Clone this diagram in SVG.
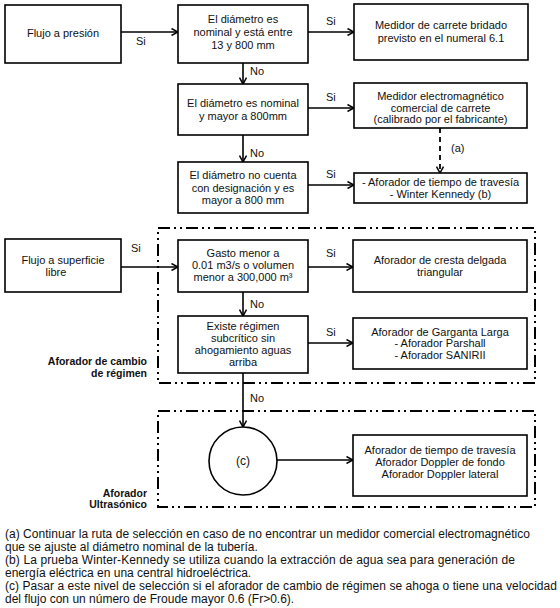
<svg xmlns="http://www.w3.org/2000/svg" width="560" height="608" viewBox="0 0 560 608">
<defs>
<marker id="arr" viewBox="0 0 8 8" refX="7.5" refY="4" markerWidth="8" markerHeight="8" markerUnits="userSpaceOnUse" orient="auto">
<path d="M1,0.5 L7.5,4 L1,7.5" fill="none" stroke="#000" stroke-width="1.5"/>
</marker>
<style>
.box{fill:#fff;stroke:#000;stroke-width:1.6}
.t{font-family:"Liberation Sans",Arial,sans-serif;font-size:11px;fill:#111;text-anchor:middle}
.lbl{font-family:"Liberation Sans",Arial,sans-serif;font-size:11px;fill:#111}
.b{font-family:"Liberation Sans",Arial,sans-serif;font-size:10.5px;font-weight:bold;fill:#111;text-anchor:end}
.fn{font-family:"Liberation Sans",Arial,sans-serif;font-size:12px;fill:#111}
.ln{fill:none;stroke:#000;stroke-width:1.6}
.dd{fill:none;stroke:#000;stroke-width:2;stroke-dasharray:12 4 2 4 2 4}
</style>
</defs>

<g id="group-cambio">
<rect class="dd" x="158" y="228" width="377" height="155"/>
<text class="b" x="147" y="365">Aforador de cambio</text>
<text class="b" x="147" y="376.5">de régimen</text>
</g>
<g id="group-ultrasonico">
<rect class="dd" x="158" y="411" width="377" height="96"/>
<text class="b" x="147" y="497">Aforador</text>
<text class="b" x="147" y="508">Ultrasónico</text>
</g>

<g id="connectors">
<line class="ln" x1="121" y1="32" x2="178" y2="32" marker-end="url(#arr)"/>
<text class="lbl" x="136" y="45">Si</text>
<line class="ln" x1="308" y1="32" x2="354" y2="32" marker-end="url(#arr)"/>
<text class="lbl" x="326" y="25">Si</text>
<line class="ln" x1="243" y1="63" x2="243" y2="84" marker-end="url(#arr)"/>
<text class="lbl" x="250" y="75">No</text>
<line class="ln" x1="308" y1="108" x2="354" y2="108" marker-end="url(#arr)"/>
<text class="lbl" x="326" y="101">Si</text>
<line class="ln" x1="243" y1="135" x2="243" y2="162" marker-end="url(#arr)"/>
<text class="lbl" x="250" y="157">No</text>
<line x1="440" y1="128" x2="440" y2="173" stroke="#000" stroke-width="1.8" stroke-dasharray="5 4" marker-end="url(#arr)"/>
<text class="lbl" x="451" y="152">(a)</text>
<line class="ln" x1="308" y1="185" x2="354" y2="185" marker-end="url(#arr)"/>
<text class="lbl" x="326" y="178">Si</text>
<line class="ln" x1="121" y1="267" x2="178" y2="267" marker-end="url(#arr)"/>
<text class="lbl" x="131" y="252">Si</text>
<line class="ln" x1="308" y1="267" x2="353" y2="267" marker-end="url(#arr)"/>
<text class="lbl" x="326" y="257">Si</text>
<line class="ln" x1="243" y1="292" x2="243" y2="316" marker-end="url(#arr)"/>
<text class="lbl" x="250" y="308">No</text>
<line class="ln" x1="308" y1="343" x2="353" y2="343" marker-end="url(#arr)"/>
<text class="lbl" x="326" y="336">Si</text>
<line class="ln" x1="243" y1="373" x2="243" y2="427" marker-end="url(#arr)"/>
<text class="lbl" x="250" y="402">No</text>
<line class="ln" x1="277" y1="460" x2="353" y2="460" marker-end="url(#arr)"/>
</g>

<g id="n-flujo-presion">
<rect class="box" x="5" y="5" width="116" height="58"/>
<text class="t" x="63" y="37">Flujo a presión</text>
</g>
<g id="n-diam-13-800">
<rect class="box" x="178" y="5" width="130" height="58"/>
<text class="t" x="243" y="23">El diámetro es</text>
<text class="t" x="243" y="36">nominal y está entre</text>
<text class="t" x="243" y="49">13 y 800 mm</text>
</g>
<g id="n-carrete-bridado">
<rect class="box" x="354" y="4" width="174" height="56"/>
<text class="t" x="441" y="29">Medidor de carrete bridado</text>
<text class="t" x="441" y="42">previsto en el numeral 6.1</text>
</g>
<g id="n-diam-mayor-800">
<rect class="box" x="178" y="84" width="130" height="51"/>
<text class="t" x="243" y="107">El diámetro es nominal</text>
<text class="t" x="243" y="120">y mayor a 800mm</text>
</g>
<g id="n-electromagnetico">
<rect class="box" x="354" y="83" width="173" height="45"/>
<text class="t" x="440.5" y="100">Medidor electromagnético</text>
<text class="t" x="440.5" y="111.5">comercial de carrete</text>
<text class="t" x="440.5" y="123">(calibrado por el fabricante)</text>
</g>
<g id="n-diam-no-cuenta">
<rect class="box" x="178" y="162" width="130" height="51"/>
<text class="t" x="243" y="179">El diámetro no cuenta</text>
<text class="t" x="243" y="191.5">con designación y es</text>
<text class="t" x="243" y="204">mayor a 800 mm</text>
</g>
<g id="n-travesia-winter">
<rect class="box" x="354" y="173" width="173" height="30"/>
<text class="t" x="440.5" y="186">- Aforador de tiempo de travesía</text>
<text class="t" x="440.5" y="198">- Winter Kennedy (b)</text>
</g>
<g id="n-flujo-superficie">
<rect class="box" x="5" y="239" width="116" height="53"/>
<text class="t" x="63" y="264">Flujo a superficie</text>
<text class="t" x="56" y="276">libre</text>
</g>
<g id="n-gasto">
<rect class="box" x="178" y="240" width="130" height="52"/>
<text class="t" x="243" y="257">Gasto menor a</text>
<text class="t" x="243" y="269">0.01 m3/s o volumen</text>
<text class="t" x="243" y="281">menor a 300,000 m³</text>
</g>
<g id="n-cresta">
<rect class="box" x="353" y="240" width="174" height="52"/>
<text class="t" x="440" y="264">Aforador de cresta delgada</text>
<text class="t" x="440" y="276">triangular</text>
</g>
<g id="n-existe-regimen">
<rect class="box" x="178" y="316" width="130" height="57"/>
<text class="t" x="243" y="330">Existe régimen</text>
<text class="t" x="243" y="342">subcrítico sin</text>
<text class="t" x="243" y="354">ahogamiento aguas</text>
<text class="t" x="243" y="366">arriba</text>
</g>
<g id="n-garganta">
<rect class="box" x="353" y="318" width="174" height="51"/>
<text class="t" x="440" y="335.5">Aforador de Garganta Larga</text>
<text class="t" x="440" y="347">- Aforador Parshall</text>
<text class="t" x="440" y="358.5">- Aforador SANIRII</text>
</g>
<g id="n-c">
<circle cx="243" cy="461" r="34" fill="#fff" stroke="#000" stroke-width="1.6"/>
<text class="t" x="243" y="465" style="font-size:12px">(c)</text>
</g>
<g id="n-ultrasonico">
<rect class="box" x="353" y="435" width="174" height="61"/>
<text class="t" x="440" y="454">Aforador de tiempo de travesía</text>
<text class="t" x="440" y="466">Aforador Doppler de fondo</text>
<text class="t" x="440" y="478">Aforador Doppler lateral</text>
</g>

<g id="footnotes">
<text class="fn" x="5" y="538" textLength="525">(a) Continuar la ruta de selección en caso de no encontrar un medidor comercial electromagnético</text>
<text class="fn" x="5" y="551">que se ajuste al diámetro nominal de la tubería.</text>
<text class="fn" x="5" y="564" textLength="510">(b) La prueba Winter-Kennedy se utiliza cuando la extracción de agua sea para generación de</text>
<text class="fn" x="5" y="577">energía eléctrica en una central hidroeléctrica.</text>
<text class="fn" x="5" y="590" textLength="552">(c) Pasar a este nivel de selección si el aforador de cambio de régimen se ahoga o tiene una velocidad</text>
<text class="fn" x="5" y="603">del flujo con un número de Froude mayor 0.6 (Fr&gt;0.6).</text>
</g>
</svg>
